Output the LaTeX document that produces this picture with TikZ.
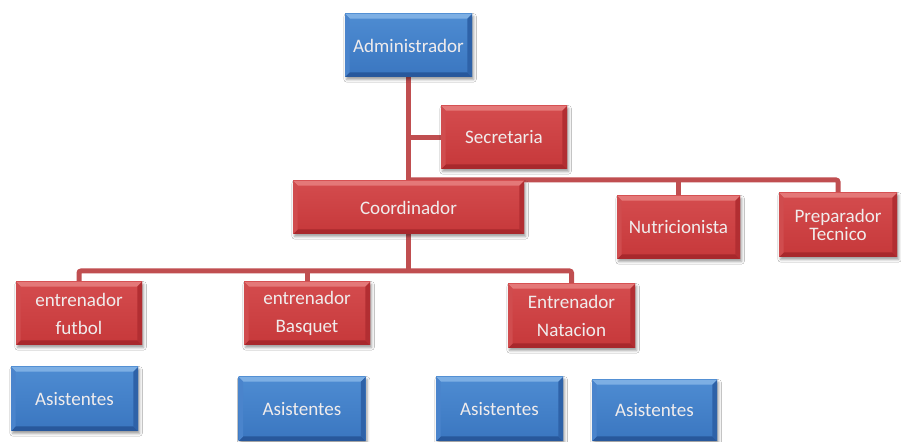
\documentclass[tikz,border=0pt]{standalone}
\usepackage{fontspec}
\setmainfont{Carlito}
\usetikzlibrary{shadows.blur,backgrounds}

\definecolor{redface}{RGB}{198,56,58}
\definecolor{redfacetop}{RGB}{212,76,78}
\definecolor{redtop}{RGB}{228,120,120}
\definecolor{redside}{RGB}{208,76,78}
\definecolor{redbot}{RGB}{168,40,44}
\definecolor{redright}{RGB}{178,46,50}
\definecolor{blueface}{RGB}{58,118,192}
\definecolor{bluefacetop}{RGB}{78,140,210}
\definecolor{bluetop}{RGB}{125,175,228}
\definecolor{blueside}{RGB}{74,132,204}
\definecolor{bluebot}{RGB}{40,88,156}
\definecolor{blueright}{RGB}{46,98,168}
\definecolor{linkred}{RGB}{192,78,80}
\definecolor{boxtext}{RGB}{240,236,236}

\tikzset{
  % bevelled edges: top, bottom, left, right
  bevel/.style n args={4}{path picture={
    \path (path picture bounding box.north west) coordinate (pnw)
          (path picture bounding box.north east) coordinate (pne)
          (path picture bounding box.south west) coordinate (psw)
          (path picture bounding box.south east) coordinate (pse);
    \fill[#1] (pnw) -- (pne) -- ([shift={(-3.5pt,-3.5pt)}]pne) -- ([shift={(3.5pt,-3.5pt)}]pnw) -- cycle;
    \fill[#2] (psw) -- (pse) -- ([shift={(-3.5pt,3.5pt)}]pse) -- ([shift={(3.5pt,3.5pt)}]psw) -- cycle;
    \fill[#3] (pnw) -- ([shift={(3.5pt,-3.5pt)}]pnw) -- ([shift={(3.5pt,3.5pt)}]psw) -- (psw) -- cycle;
    \fill[#4] (pne) -- ([shift={(-3.5pt,-3.5pt)}]pne) -- ([shift={(-3.5pt,3.5pt)}]pse) -- (pse) -- cycle;
  }},
  box/.style={inner sep=0pt, align=center, text=boxtext,
    font=\fontsize{14.3}{21}\selectfont,
    blur shadow={shadow xshift=1.2pt, shadow yshift=-1.8pt,
      shadow blur radius=2pt, shadow opacity=40}},
  redbox/.style={box, top color=redfacetop, bottom color=redface,
    bevel={redtop}{redbot}{redside}{redright}},
  bluebox/.style={box, top color=bluefacetop, bottom color=blueface,
    bevel={bluetop}{bluebot}{blueside}{blueright}},
  wh/.style 2 args={minimum width=#1*0.75pt, minimum height=#2*0.75pt},
  link/.style={draw=linkred, line width=3.75pt, rounded corners=1.5pt}
}

\begin{document}
\begin{tikzpicture}[x=0.75pt,y=-0.75pt]
  \useasboundingbox (0,0) rectangle (901,442);

  % top levels
  \node[bluebox, wh={127}{63}] (adm) at (408.5,45.5) {Administrador};
  \node[redbox, wh={126}{63}] (sec) at (504,137.5) {Secretaria};
  \node[redbox, wh={231}{53}] (coord) at (408.5,207.5) {Coordinador};
  \node[redbox, wh={123}{63}] (nut) at (678.5,227.5) {Nutricionista};
  \node[redbox, wh={118}{64}, font=\fontsize{14.3}{13.8}\selectfont] (prep) at (838,225) {Preparador\\Tecnico};

  % trainers
  \node[redbox, wh={126}{63}] (fut) at (79,313.5) {entrenador\\futbol};
  \node[redbox, wh={126}{63}] (bas) at (307,313.5) {entrenador\\Basquet};
  \node[redbox, wh={127}{64}] (nat) at (571.5,316) {Entrenador\\Natacion};

  % assistants
  \node[bluebox, wh={127}{64}] (as1) at (74.5,399) {Asistentes};
  \node[bluebox, wh={127}{64}] (as2) at (302,409) {Asistentes};
  \node[bluebox, wh={127}{64}] (as3) at (499.5,409) {Asistentes};
  \node[bluebox, wh={125}{61}] (as4) at (654.5,410.5) {Asistentes};

  % connectors, drawn behind the boxes
  \coordinate (bus1) at (408.5,180);
  \coordinate (bus2) at (408.5,271);
  \begin{scope}[on background layer]
    \fill[white] (0,0) rectangle (901,442);
    \draw[link] (adm.south) -- (coord.north);
    \draw[link] (adm.south |- sec.west) -- (sec.west);
    \draw[link] (bus1) -| (prep.north);
    \draw[link] (bus1 -| nut.north) -- (nut.north);
    \draw[link] (coord.south) -- (bus2);
    \draw[link] (fut.north) |- (bus2) -| (nat.north);
    \draw[link] (bus2 -| bas.north) -- (bas.north);
  \end{scope}
\end{tikzpicture}
\end{document}
